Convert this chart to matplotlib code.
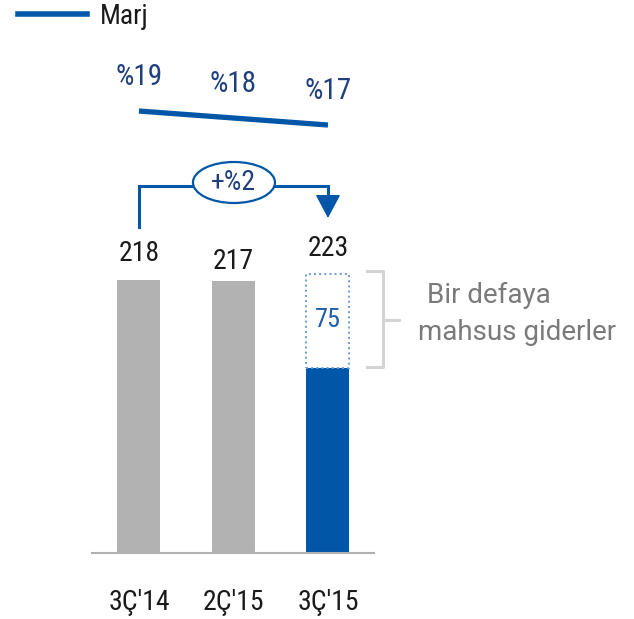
import matplotlib
matplotlib.use("Agg")
import matplotlib.pyplot as plt
from matplotlib.patches import Ellipse
from matplotlib.lines import Line2D
import numpy as np

plt.rcParams['font.family'] = ['Roboto Condensed', 'Liberation Sans Narrow', 'Liberation Sans', 'DejaVu Sans']
wide = ['Roboto', 'DejaVu Sans']

# data
categories = ["3Ç'14", "2Ç'15", "3Ç'15"]
totals = [218, 217, 223]
one_off = 75                      # "Bir defaya mahsus giderler" part of last bar
margins = [19, 18, 17]            # Marj, %
change_label = '+%2'

blue = '#0057a8'
gray = '#b2b2b2'
navy = '#1f3f7f'

fig = plt.figure(figsize=(6.34, 6.19), dpi=100)
W, H = 634, 619
ax = fig.add_axes([92 / W, 66 / H, 282 / W, 553 / H])
ax.set_xlim(-0.497, 2.487)
ax.set_ylim(0, 553 / 1.252)


def px(p):
    return (p - 139) / 94.5


def py(p):
    return (553 - p) / 1.252


x = np.arange(len(categories))
width = 0.455
base = [totals[0], totals[1], totals[2] - one_off]
ax.bar(x[:2], base[:2], width, color=gray, zorder=2)
ax.bar(x[2], base[2], width, color=blue, zorder=2)
ax.bar(x[2], one_off, width, bottom=base[2], fill=False, edgecolor='#6b9bd6',
       linestyle=':', linewidth=1.4, zorder=2)

# value labels
offs = [27, 20, 25]
for xi, v, o in zip(x, totals, offs):
    ax.annotate(str(v), (xi, v), xytext=(0, o * 0.72), textcoords='offset points',
                ha='center', va='center', fontsize=20, color='#1a1a1a')
ax.text(x[2], base[2] + one_off / 2 + 1, str(one_off), ha='center', va='center',
        fontsize=19, color='#1f5fae')

# axis styling
for s in ['top', 'left', 'right']:
    ax.spines[s].set_visible(False)
ax.spines['bottom'].set_color('#b0b0b0')
ax.spines['bottom'].set_linewidth(1.5)
ax.set_yticks([])
ax.set_xticks(x)
ax.set_xticklabels(categories, fontsize=20, color='#1a1a1a')
ax.tick_params(axis='x', length=0, pad=26)

# growth bracket with arrow
y_leg = py(227)
y_top = py(186)
ax.plot([x[0], x[0], x[2], x[2]], [y_leg, y_top, y_top, py(205)], color=blue, lw=2.2,
        solid_joinstyle='miter', zorder=3)
ax.annotate('', xy=(x[2], py(218)), xytext=(x[2], py(204)),
            arrowprops=dict(arrowstyle='-|>,head_length=0.75,head_width=0.4',
                            color=blue, lw=1, shrinkA=0, shrinkB=0,
                            mutation_scale=20), zorder=3)
ax.add_patch(Ellipse((px(234), py(182.5)), 82 / 94.5, 41 / 1.252, facecolor='white',
                     edgecolor=blue, lw=1.6, zorder=4))
ax.text(px(233), py(183), change_label, ha='center', va='center', fontsize=20,
        color=navy, zorder=5)

# brace for one-off expenses
bx = [367, 383, 383, 399, 383, 383, 367]
by = [271, 271, 320, 320, 320, 367, 367]
ax.plot([px(v) for v in bx], [py(v) for v in by], color='#d4d4d4', lw=2.2,
        clip_on=False, solid_joinstyle='round', zorder=2)
ax.text(px(427), py(295), 'Bir defaya', ha='left', va='center', fontsize=20,
        color='#7a7a7a', family=wide)
ax.text(px(418), py(332), 'mahsus giderler', ha='left', va='center', fontsize=20,
        color='#7a7a7a', family=wide)

# margin line
ax2 = ax.twinx()
ax2.set_ylim(-44.14, 34.86)
ax2.axis('off')
ax2.plot(x, margins, color=blue, lw=3.8, solid_capstyle='butt')
for xi, m in zip(x, margins):
    ax2.annotate(f'%{m}', (xi, m), xytext=(0, 24.5), textcoords='offset points',
                 ha='center', va='center', fontsize=21, color=navy)

# legend
fig.legend([Line2D([], [], color=blue, lw=4)], ['Marj'], loc='upper left',
           bbox_to_anchor=(18 / W, 1 - 3 / H), frameon=False, borderpad=0,
           borderaxespad=0, handlelength=2.5, handletextpad=0.45, fontsize=20,
           labelcolor='#1a1a1a')

plt.savefig('out.png', dpi=100)
